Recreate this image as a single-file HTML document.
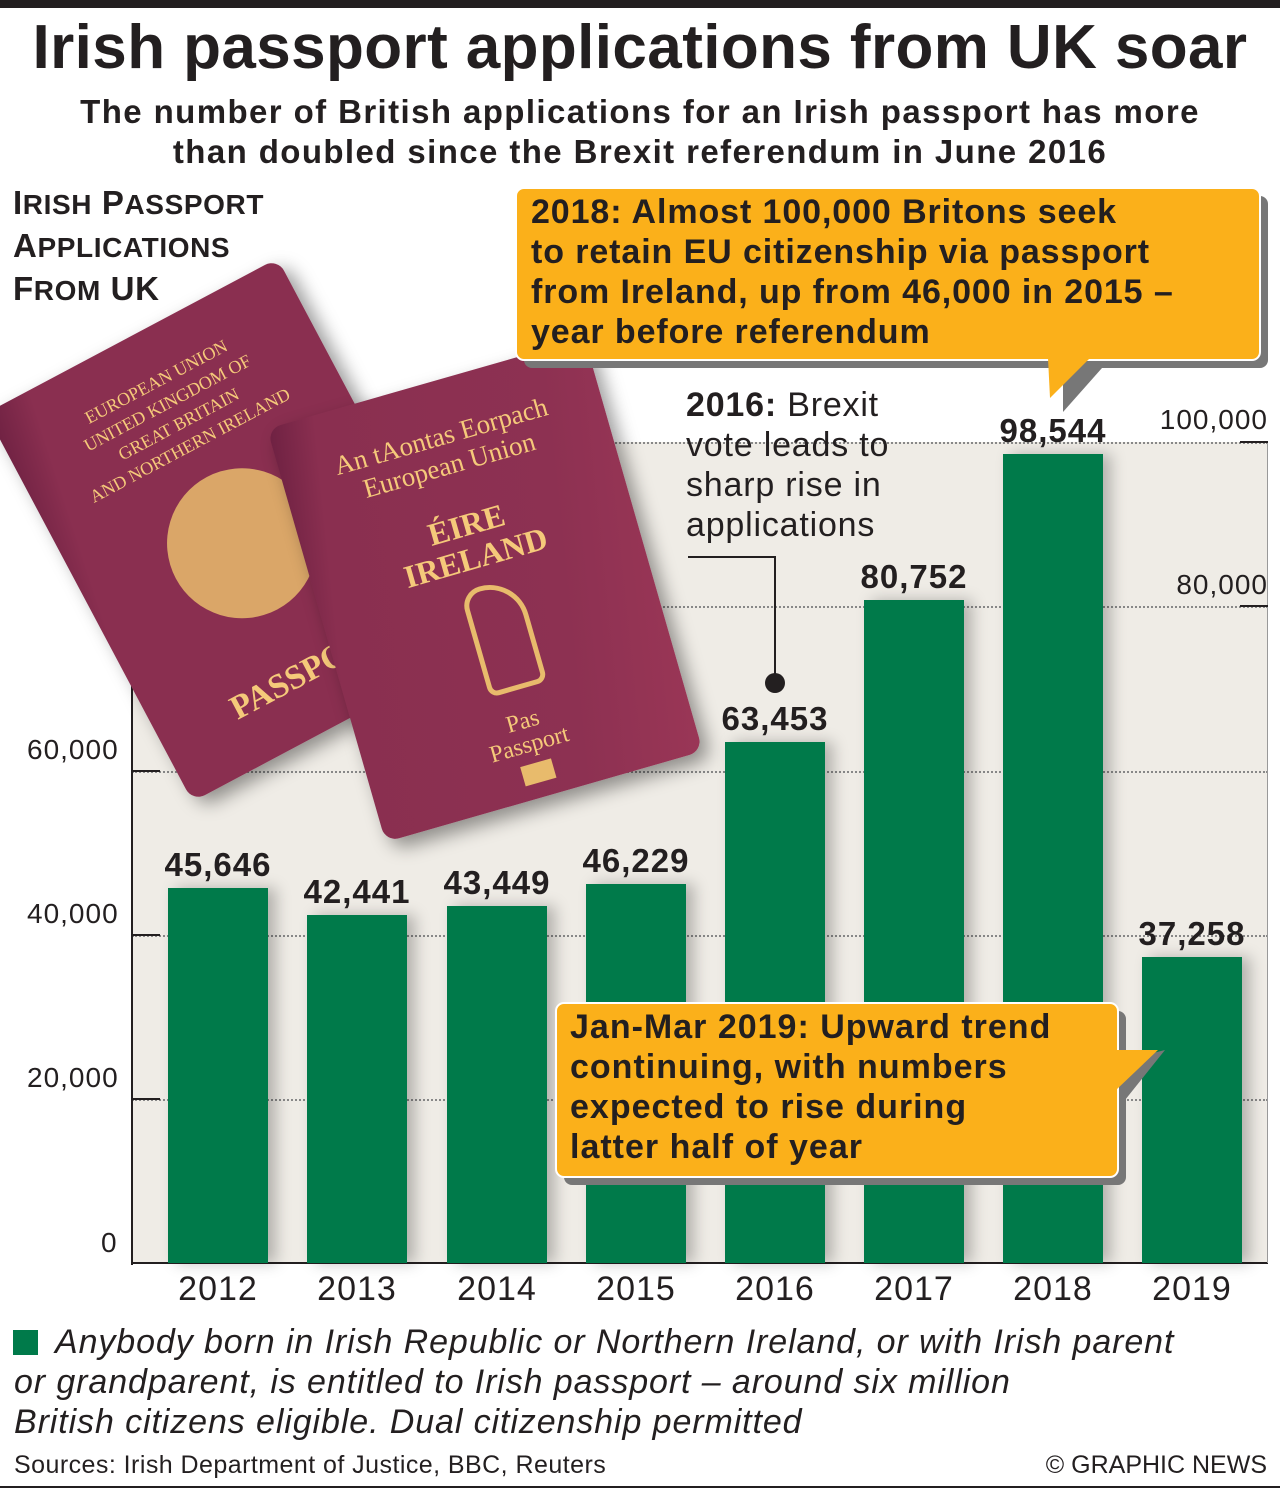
<!DOCTYPE html>
<html><head><meta charset="utf-8"><style>
body{margin:0;width:1280px;height:1494px;background:#fff;position:relative;overflow:hidden;font-family:"Liberation Sans",Arial,sans-serif;color:#231f20}
.a{position:absolute}
.bar{position:absolute;background:#007a4a;width:100px;box-shadow:8px 0 14px rgba(0,0,0,0.25)}
.v{position:absolute;width:140px;text-align:center;font-weight:bold;font-size:33px;letter-spacing:1px}
.yr{position:absolute;width:140px;text-align:center;font-size:34px;top:1270px;letter-spacing:1px}
.tk{position:absolute;font-size:28px;letter-spacing:1px}
.grid{position:absolute;left:132px;width:1136px;border-top:2px dotted #888}
</style></head><body>
<div class="a" style="left:0;top:0;width:1280px;height:8px;background:#231f20"></div>
<div class="a" style="left:0;top:12px;width:1280px;text-align:center;font-weight:bold;font-size:62px;letter-spacing:0.4px">Irish passport applications from UK soar</div>
<div class="a" style="left:0;top:92px;width:1280px;text-align:center;font-weight:bold;font-size:33px;line-height:40px;letter-spacing:1.4px">The number of British applications for an Irish passport has more<br>than doubled since the Brexit referendum in June 2016</div>
<div class="a" style="left:13px;top:182px;font-weight:bold;font-size:33px;line-height:41px;letter-spacing:0.6px">I<span style="font-size:28px">RISH</span> P<span style="font-size:28px">ASSPORT</span><br>A<span style="font-size:28px">PPLICATIONS</span><br>F<span style="font-size:28px">ROM</span> UK</div>

<div class="a" style="left:132px;top:442px;width:1136px;height:821px;background:#efece6"></div>
<div class="grid" style="top:442px"></div>
<div class="grid" style="top:606px"></div>
<div class="grid" style="top:771px"></div>
<div class="grid" style="top:935px"></div>
<div class="grid" style="top:1099px"></div>
<div class="a" style="left:131px;top:600px;width:2px;height:665px;background:#231f20"></div>
<div class="a" style="left:131px;top:1262px;width:1137px;height:2px;background:#231f20"></div>
<div class="a" style="left:1267px;top:442px;width:1px;height:821px;background:#999"></div>
<div class="a" style="left:132px;top:770px;width:28px;height:2px;background:#231f20"></div>
<div class="a" style="left:132px;top:934px;width:28px;height:2px;background:#231f20"></div>
<div class="a" style="left:132px;top:1098px;width:28px;height:2px;background:#231f20"></div>
<div class="a" style="left:1240px;top:441px;width:28px;height:2px;background:#231f20"></div>
<div class="a" style="left:1240px;top:605px;width:28px;height:2px;background:#231f20"></div>
<div class="tk" style="left:27px;top:734px">60,000</div>
<div class="tk" style="left:27px;top:898px">40,000</div>
<div class="tk" style="left:27px;top:1062px">20,000</div>
<div class="tk" style="left:101px;top:1227px">0</div>
<div class="tk" style="right:12px;top:404px">100,000</div>
<div class="tk" style="right:12px;top:569px">80,000</div>

<div class="bar" style="left:168px;top:888px;height:375px"></div>
<div class="bar" style="left:307px;top:915px;height:348px"></div>
<div class="bar" style="left:447px;top:906px;height:357px"></div>
<div class="bar" style="left:586px;top:884px;height:379px"></div>
<div class="bar" style="left:725px;top:742px;height:521px"></div>
<div class="bar" style="left:864px;top:600px;height:663px"></div>
<div class="bar" style="left:1003px;top:454px;height:809px"></div>
<div class="bar" style="left:1142px;top:957px;height:306px"></div>
<div class="v" style="left:148px;top:846px">45,646</div>
<div class="v" style="left:287px;top:873px">42,441</div>
<div class="v" style="left:427px;top:864px">43,449</div>
<div class="v" style="left:566px;top:842px">46,229</div>
<div class="v" style="left:705px;top:700px">63,453</div>
<div class="v" style="left:844px;top:558px">80,752</div>
<div class="v" style="left:983px;top:412px">98,544</div>
<div class="v" style="left:1122px;top:915px">37,258</div>
<div class="yr" style="left:148px">2012</div>
<div class="yr" style="left:287px">2013</div>
<div class="yr" style="left:427px">2014</div>
<div class="yr" style="left:566px">2015</div>
<div class="yr" style="left:705px">2016</div>
<div class="yr" style="left:844px">2017</div>
<div class="yr" style="left:983px">2018</div>
<div class="yr" style="left:1122px">2019</div>

<!-- passports -->
<div class="a" style="left:70px;top:310px;width:330px;height:440px;border-radius:14px;background:linear-gradient(100deg,#6e2142 0,#8a2f50 12%,#8a2f50 100%);transform:rotate(-28deg);transform-origin:center;box-shadow:6px 10px 18px rgba(0,0,0,0.4)">
<div style="position:absolute;top:40px;width:100%;text-align:center;color:#f5c97a;font-family:'Liberation Serif',serif;font-size:18px;line-height:24px">EUROPEAN UNION<br>UNITED KINGDOM OF<br>GREAT BRITAIN<br>AND NORTHERN IRELAND</div>
<div style="position:absolute;top:160px;left:90px;width:150px;height:150px;border-radius:50%;background:#e8bb6c;opacity:.85"></div>
<div style="position:absolute;top:360px;width:100%;text-align:center;color:#f5c97a;font-family:'Liberation Serif',serif;font-weight:bold;font-size:34px">PASSPORT</div></div>
<div class="a" style="left:320px;top:375px;width:330px;height:430px;border-radius:14px;background:linear-gradient(100deg,#6e2142 0,#8a2f50 12%,#8d3152 70%,#9a3656 100%);transform:rotate(-16deg);box-shadow:6px 10px 18px rgba(0,0,0,0.4)">
<div style="position:absolute;top:40px;width:100%;text-align:center;color:#f5c97a;font-family:'Liberation Serif',serif;font-size:27px;line-height:30px">An tAontas Eorpach<br>European Union</div>
<div style="position:absolute;top:130px;width:100%;text-align:center;color:#f5c97a;font-family:'Liberation Serif',serif;font-weight:bold;font-size:32px;line-height:34px">ÉIRE<br>IRELAND</div>
<div style="position:absolute;top:210px;left:140px;width:50px;height:100px;border:5px solid #e8bb6c;border-radius:20px 40px 10px 10px"></div>
<div style="position:absolute;top:340px;width:100%;text-align:center;color:#f5c97a;font-family:'Liberation Serif',serif;font-size:24px;line-height:24px">Pas<br>Passport</div>
<div style="position:absolute;top:395px;left:150px;width:32px;height:20px;background:#e8bb6c"></div></div>

<!-- 2016 annotation -->
<div class="a" style="left:686px;top:385px;font-size:34px;line-height:40px;letter-spacing:0.8px"><b>2016:</b> Brexit<br>vote leads to<br>sharp rise in<br>applications</div>
<div class="a" style="left:688px;top:556px;width:88px;height:2px;background:#231f20"></div>
<div class="a" style="left:774px;top:556px;width:2px;height:126px;background:#231f20"></div>
<div class="a" style="left:765px;top:673px;width:20px;height:20px;border-radius:50%;background:#231f20"></div>

<!-- callouts -->
<svg class="a" style="left:0;top:0" width="1280" height="1494">
<polygon points="1065,368 1102,368 1063,412 1063,380" fill="#777"/>
<rect x="524" y="196" width="744" height="172" rx="8" fill="#777"/>
<rect x="516" y="188" width="744" height="172" rx="8" fill="#fbb01a" stroke="#fff" stroke-width="2"/>
<polygon points="1048,358 1090,358 1050,398" fill="#fbb01a"/>
<polygon points="1125,1060 1165,1050 1125,1100" fill="#777"/>
<rect x="564" y="1011" width="562" height="174" rx="8" fill="#777"/>
<rect x="556" y="1003" width="562" height="174" rx="8" fill="#fbb01a" stroke="#fff" stroke-width="2"/>
<polygon points="1116,1050 1158,1050 1116,1090" fill="#fbb01a"/>
</svg>
<div class="a" style="left:531px;top:192px;font-weight:bold;font-size:34px;line-height:40px;letter-spacing:0.9px">2018: Almost 100,000 Britons seek<br>to retain EU citizenship via passport<br>from Ireland, up from 46,000 in 2015 –<br>year before referendum</div>
<div class="a" style="left:570px;top:1007px;font-weight:bold;font-size:34px;line-height:40px;letter-spacing:1px">Jan-Mar 2019: Upward trend<br>continuing, with numbers<br>expected to rise during<br>latter half of year</div>

<!-- footer -->
<div class="a" style="left:13px;top:1330px;width:25px;height:25px;background:#007a4a"></div>
<div class="a" style="left:14px;top:1322px;font-style:italic;font-size:34px;line-height:40px;letter-spacing:0.9px"><span style="display:inline-block;width:41px"></span>Anybody born in Irish Republic or Northern Ireland, or with Irish parent<br>or grandparent, is entitled to Irish passport – around six million<br>British citizens eligible. Dual citizenship permitted</div>
<div class="a" style="left:14px;top:1451px;font-size:25px;letter-spacing:0.45px">Sources: Irish Department of Justice, BBC, Reuters</div>
<div class="a" style="right:13px;top:1451px;font-size:25px">© GRAPHIC NEWS</div>
<div class="a" style="left:0;top:1486px;width:1280px;height:2px;background:#231f20"></div>
</body></html>
